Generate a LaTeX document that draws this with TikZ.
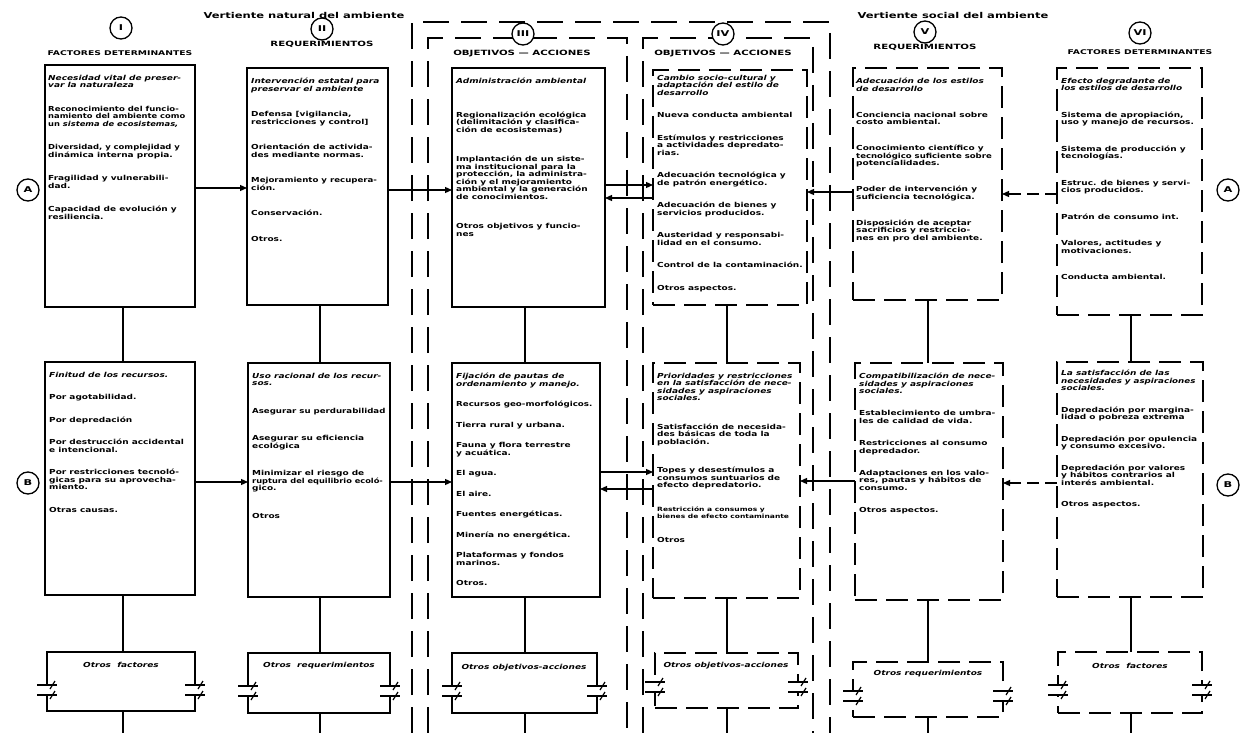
\documentclass[tikz,border=0pt]{standalone}
\usepackage{fontspec}
\usepackage{graphicx}
\newfontfamily\dfont[FakeStretch=1.42]{DejaVu Sans}
\newfontfamily\tfont[FakeStretch=1.3]{DejaVu Sans}
\usetikzlibrary{arrows.meta}
\newcommand\sq[2]{\scalebox{#1}[1]{#2}}
\newcommand\brkmark[1]{%
  \fill[white] ([shift={(-3,-5)}]#1) rectangle ([shift={(3,5)}]#1);
  \draw[conn] ([shift={(-10,-5)}]#1) -- ([shift={(10,-5)}]#1);
  \draw[conn] ([shift={(-10,5)}]#1) -- ([shift={(10,5)}]#1);
  \draw[conn] ([shift={(3,-1)}]#1) -- ([shift={(8,-9)}]#1);
  \draw[conn] ([shift={(3,9)}]#1) -- ([shift={(8,1)}]#1);
}
\begin{document}
\begin{tikzpicture}[x=1pt,y=-1pt,
  bx/.style={draw, line width=1.4pt, inner sep=0pt, outer sep=0pt, anchor=north west},
  sbox/.style={bx},
  dbox/.style={bx, dash pattern=on 22pt off 9pt},
  encl/.style={draw, line width=1.8pt, dash pattern=on 26pt off 12pt},
  conn/.style={line width=1.2pt},
  arr/.style={conn, -{Triangle[length=7pt,width=6pt]}},
  darr/.style={arr, dash pattern=on 12pt off 6pt},
  txt/.style={anchor=north west, align=left, inner sep=0pt, font=\tfont\bfseries\fontsize{6.9}{7.5}\selectfont},
  hdr/.style={inner sep=0pt, font=\dfont\bfseries\fontsize{7.2}{8}\selectfont},
  ttl/.style={inner sep=0pt, font=\dfont\bfseries\fontsize{8.1}{10}\selectfont},
  circ/.style={circle, draw, fill=white, line width=1.3pt, minimum size=22pt, inner sep=0pt, font=\dfont\bfseries\fontsize{8}{9}\selectfont},
  oth/.style={inner sep=0pt, font=\tfont\bfseries\itshape\fontsize{6.9}{7.5}\selectfont}
]
\useasboundingbox (0,0) rectangle (1240,733);
\fill[white] (0,0) rectangle (1240,733);

% enclosures
\draw[encl] (412,733) -- (412,22) -- (830,22) -- (830,733);
\draw[encl] (428,733) -- (428,38) -- (627,38) -- (627,733);
\draw[encl] (643,733) -- (643,38) -- (813,38) -- (813,733);

% titles and headers
\node[ttl] (tN) at (304,15) {Vertiente natural del ambiente};
\node[ttl] (tS) at (953,15) {Vertiente social del ambiente};
\node[circ] (cI) at (121,28) {I};
\node[hdr, font=\dfont\bfseries\fontsize{6.5}{8}\selectfont] (hI) at (120,53) {FACTORES DETERMINANTES};
\node[circ] (cII) at (322,29) {II};
\node[hdr] (hII) at (322,44) {REQUERIMIENTOS};
\node[circ] (cIII) at (523,34) {III};
\node[hdr] (hIII) at (522,54) {OBJETIVOS — ACCIONES};
\node[circ] (cIV) at (723,34) {IV};
\node[hdr] (hIV) at (723,54) {OBJETIVOS — ACCIONES};
\node[circ] (cV) at (925,32) {V};
\node[hdr] (hV) at (925,47) {REQUERIMIENTOS};
\node[circ] (cVI) at (1140,33) {VI};
\node[hdr, font=\dfont\bfseries\fontsize{6.5}{8}\selectfont] (hVI) at (1140,52) {FACTORES DETERMINANTES};

% side circles
\node[circ] (Al) at (28,190) {A};
\node[circ] (Ar) at (1228,190) {A};
\node[circ] (Bl) at (28,483) {B};
\node[circ] (Br) at (1228,485) {B};

% upper boxes
\node[sbox, minimum width=150pt, minimum height=242pt] (IA) at (45,65) {};
\node[sbox, minimum width=141pt, minimum height=237pt] (IIA) at (247,68) {};
\node[sbox, minimum width=153pt, minimum height=239pt] (IIIA) at (452,68) {};
\node[dbox, minimum width=154pt, minimum height=235pt] (IVA) at (653,70) {};
\node[dbox, minimum width=149pt, minimum height=232pt] (VA) at (853,68) {};
\node[dbox, minimum width=145pt, minimum height=247pt] (VIA) at (1057,68) {};

% lower boxes
\node[sbox, minimum width=150pt, minimum height=233pt] (IB) at (45,362) {};
\node[sbox, minimum width=142pt, minimum height=234pt] (IIB) at (248,363) {};
\node[sbox, minimum width=148pt, minimum height=234pt] (IIIB) at (452,363) {};
\node[dbox, minimum width=147pt, minimum height=235pt] (IVB) at (653,363) {};
\node[dbox, minimum width=148pt, minimum height=237pt] (VB) at (855,363) {};
\node[dbox, minimum width=146pt, minimum height=235pt] (VIB) at (1057,362) {};

% otros boxes
\node[sbox, minimum width=148pt, minimum height=59pt] (OI) at (47,652) {};
\node[sbox, minimum width=142pt, minimum height=60pt] (OII) at (248,653) {};
\node[sbox, minimum width=145pt, minimum height=60pt] (OIII) at (452,653) {};
\node[dbox, minimum width=143pt, minimum height=55pt] (OIV) at (655,653) {};
\node[dbox, minimum width=150pt, minimum height=55pt] (OV) at (853,662) {};
\node[dbox, minimum width=144pt, minimum height=61pt] (OVI) at (1058,652) {};

% texts upper
\node[txt] (tIA) at (48,75) {\textit{Necesidad vital de preser-}\\\textit{var la naturaleza}\\[16pt]
\sq{0.95}{Reconocimiento del funcio-}\\\sq{0.93}{namiento del ambiente como}\\\sq{0.93}{un \textit{sistema de ecosistemas,}}\\[16pt]
\sq{0.94}{Diversidad, y complejidad y}\\dinámica interna propia.\\[16pt]
Fragilidad y vulnerabili-\\dad.\\[16pt]
Capacidad de evolución y\\resiliencia.};
\node[txt] (tIIA) at (251,78) {\textit{Intervención estatal para}\\\textit{preservar el ambiente}\\[18pt]
Defensa [vigilancia,\\restricciones y control]\\[18pt]
Orientación de activida-\\des mediante normas.\\[18pt]
\sq{0.96}{Mejoramiento y recupera-}\\ción.\\[18pt]
Conservación.\\[18pt]
Otros.};
\node[txt] (tIIIA) at (456,78) {\textit{Administración ambiental}\\[26pt]
Regionalización ecológica\\(delimitación y clasifica-\\ción de ecosistemas)\\[22pt]
Implantación de un siste-\\ma institucional para la\\protección, la administra-\\ción y el mejoramiento\\ambiental y la generación\\de conocimientos.\\[22pt]
Otros objetivos y funcio-\\nes};
\node[txt] (tIVA) at (657,75) {\textit{Cambio socio-cultural y}\\\textit{adaptación del estilo de}\\\textit{desarrollo}\\[15pt]
Nueva conducta ambiental\\[15pt]
Estímulos y restricciones\\a actividades depredato-\\rias.\\[15pt]
Adecuación tecnológica y\\de patrón energético.\\[15pt]
Adecuación de bienes y\\servicios producidos.\\[15pt]
Austeridad y responsabi-\\lidad en el consumo.\\[15pt]
Control de la contaminación.\\[15pt]
Otros aspectos.};
\node[txt] (tVA) at (856,78) {\textit{Adecuación de los estilos}\\\textit{de desarrollo}\\[18.5pt]
Conciencia nacional sobre\\costo ambiental.\\[18.5pt]
Conocimiento científico y\\\sq{0.95}{tecnológico suficiente sobre}\\potencialidades.\\[18.5pt]
Poder de intervención y\\suficiencia tecnológica.\\[18.5pt]
Disposición de aceptar\\sacrificios y restriccio-\\nes en pro del ambiente.};
\node[txt] (tVIA) at (1061,78) {\textit{Efecto degradante de}\\\textit{los estilos de desarrollo}\\[19pt]
Sistema de apropiación,\\uso y manejo de recursos.\\[19pt]
Sistema de producción y\\tecnologías.\\[19pt]
Estruc. de bienes y servi-\\cios producidos.\\[19pt]
Patrón de consumo int.\\[19pt]
Valores, actitudes y\\motivaciones.\\[19pt]
Conducta ambiental.};

% texts lower
\node[txt] (tIB) at (49,372) {\textit{Finitud de los recursos.}\\[15pt]
Por agotabilidad.\\[15pt]
Por depredación\\[15pt]
Por destrucción accidental\\e intencional.\\[15pt]
Por restricciones tecnoló-\\gicas para su aprovecha-\\miento.\\[15pt]
Otras causas.};
\node[txt] (tIIB) at (252,373) {\textit{Uso racional de los recur-}\\\textit{sos.}\\[20pt]
\sq{0.96}{Asegurar su perdurabilidad}\\[20pt]
Asegurar su eficiencia\\ecológica\\[20pt]
Minimizar el riesgo de\\\sq{0.92}{ruptura del equilibrio ecoló-}\\gico.\\[20pt]
Otros};
\node[txt] (tIIIB) at (456,373) {\textit{Fijación de pautas de}\\\textit{ordenamiento y manejo.}\\[13pt]
\sq{0.97}{Recursos geo-morfológicos.}\\[13pt]
Tierra rural y urbana.\\[13pt]
Fauna y flora terrestre\\y acuática.\\[13pt]
El agua.\\[13pt]
El aire.\\[13pt]
Fuentes energéticas.\\[13pt]
Minería no energética.\\[13pt]
Plataformas y fondos\\marinos.\\[13pt]
Otros.};
\node[txt] (tIVB) at (657,373) {\textit{Prioridades y restricciones}\\\textit{en la satisfacción de nece-}\\\textit{sidades y aspiraciones}\\\textit{sociales.}\\[21pt]
Satisfacción de necesida-\\des básicas de toda la\\población.\\[21pt]
Topes y desestímulos a\\consumos suntuarios de\\efecto depredatorio.\\[16pt]
{\fontsize{5.8}{6.5}\selectfont Restricción a consumos y}\\{\fontsize{5.8}{6.5}\selectfont bienes de efecto contaminante}\\[16pt]
Otros};
\node[txt] (tVB) at (859,373) {\textit{Compatibilización de nece-}\\\textit{sidades y aspiraciones}\\\textit{sociales.}\\[14.7pt]
Establecimiento de umbra-\\les de calidad de vida.\\[14.7pt]
Restricciones al consumo\\depredador.\\[14.7pt]
Adaptaciones en los valo-\\res, pautas y hábitos de\\consumo.\\[14.7pt]
Otros aspectos.};
\node[txt] (tVIB) at (1061,370) {\textit{La satisfacción de las}\\\sq{0.97}{\textit{necesidades y aspiraciones}}\\\textit{sociales.}\\[14pt]
Depredación por margina-\\lidad o pobreza extrema\\[14pt]
Depredación por opulencia\\y consumo excesivo.\\[14pt]
Depredación por valores\\y hábitos contrarios al\\interés ambiental.\\[14pt]
Otros aspectos.};

% otros texts
\node[oth] (oI) at (121,665) {Otros\ \ factores};
\node[oth] (oII) at (319,666) {Otros\ \ requerimientos};
\node[oth] (oIII) at (524,668) {Otros objetivos-acciones};
\node[oth] (oIV) at (726,666) {Otros objetivos-acciones};
\node[oth] (oV) at (928,674) {Otros requerimientos};
\node[oth] (oVI) at (1130,666) {Otros\ \ factores};

% break marks
\path (OI.north west) ++(0,38) coordinate (bIl);   \path (OI.north east) ++(0,38) coordinate (bIr);
\path (OII.north west) ++(0,38) coordinate (bIIl); \path (OII.north east) ++(0,38) coordinate (bIIr);
\path (OIII.north west) ++(0,38) coordinate (bIIIl); \path (OIII.north east) ++(0,38) coordinate (bIIIr);
\path (OIV.north west) ++(0,34) coordinate (bIVl); \path (OIV.north east) ++(0,34) coordinate (bIVr);
\path (OV.north west) ++(0,34) coordinate (bVl);   \path (OV.north east) ++(0,34) coordinate (bVr);
\path (OVI.north west) ++(0,38) coordinate (bVIl); \path (OVI.north east) ++(0,38) coordinate (bVIr);
\brkmark{bIl}\brkmark{bIr}\brkmark{bIIl}\brkmark{bIIr}\brkmark{bIIIl}\brkmark{bIIIr}
\brkmark{bIVl}\brkmark{bIVr}\brkmark{bVl}\brkmark{bVr}\brkmark{bVIl}\brkmark{bVIr}

% vertical connectors
\coordinate (xI) at (123,733); \coordinate (xII) at (320,733); \coordinate (xIII) at (525,733);
\coordinate (xIV) at (727,733); \coordinate (xV) at (928,733); \coordinate (xVI) at (1131,733);
\foreach \c in {I,II,III,IV,V,VI}{
  \draw[conn] (\c A.south -| x\c) -- (\c B.north -| x\c);
  \draw[conn] (\c B.south -| x\c) -- (O\c.north -| x\c);
  \draw[conn] (O\c.south -| x\c) -- (x\c);
}

% horizontal connectors, row A
\coordinate (ya) at (0,188); \coordinate (yb) at (0,190); \coordinate (yc) at (0,185);
\coordinate (yd) at (0,198); \coordinate (ye) at (0,192); \coordinate (yf) at (0,194);
\draw[arr] (IA.east |- ya) -- (IIA.west |- ya);
\draw[arr] (IIA.east |- yb) -- (IIIA.west |- yb);
\draw[arr] (IIIA.east |- yc) -- (IVA.west |- yc);
\draw[arr] (IVA.west |- yd) -- (IIIA.east |- yd);
\draw[arr] (VA.west |- ye) -- (IVA.east |- ye);
\draw[darr] (VIA.west |- yf) -- (VA.east |- yf);

% row B
\coordinate (ga) at (0,482); \coordinate (gc) at (0,472); \coordinate (gd) at (0,489);
\coordinate (ge) at (0,481); \coordinate (gf) at (0,483);
\draw[arr] (IB.east |- ga) -- (IIB.west |- ga);
\draw[arr] (IIB.east |- ga) -- (IIIB.west |- ga);
\draw[arr] (IIIB.east |- gc) -- (IVB.west |- gc);
\draw[arr] (IVB.west |- gd) -- (IIIB.east |- gd);
\draw[arr] (VB.west |- ge) -- (IVB.east |- ge);
\draw[darr] (VIB.west |- gf) -- (VB.east |- gf);
\end{tikzpicture}
\end{document}
